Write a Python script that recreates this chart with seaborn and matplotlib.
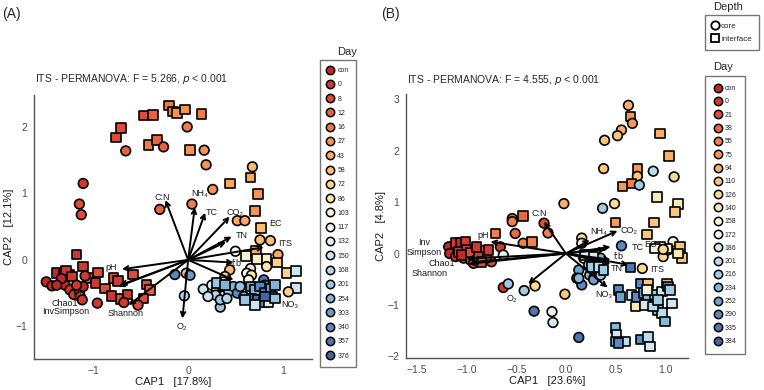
import pandas as pd
import seaborn as sns
import matplotlib.pyplot as plt
from matplotlib.lines import Line2D

# --- Panel A data (ITS, first experiment) ---
days_a = ["con", "0", "8", "12", "16", "27", "43", "58", "72", "86", "103", "117",
          "132", "150", "168", "201", "254", "303", "340", "357", "376"]

a_x = [-0.76, -0.71, -0.66, -0.47, -0.37, -0.42, -0.33, -0.26, -0.20, -0.16, -0.12, -0.03,
       -0.01, 0.14, 0.02, 0.17, 0.19, 0.26, 0.44, 0.68, 0.66, 0.74, -1.11, -1.15, -1.13,
       -0.30, 0.04, 0.71, 0.52, 0.60, 0.77, 0.76, 0.87, 0.50, 0.61, 0.72, 0.73, 0.83, 0.95,
       0.94, 0.83, 1.04, 1.14, 1.14, 1.06, 0.44, -0.02, -0.14, 0.02, -0.04, 0.16, 0.34,
       0.39, 0.37, 0.66, 0.62, 0.67, 0.64,
       0.25, 0.30, 0.36, 0.43, 0.48, 0.52, 0.55, 0.29, 0.21, 0.34, 0.41, 0.59, 0.71, 0.80,
       0.81, 0.76,
       0.30, 0.39, 0.66, 0.71, 0.76, 0.81, 0.87, 0.92, 0.89, 0.67, 0.74, 0.80, 0.85, 0.92,
       0.71, 0.60, 0.81,
       -1.18, -1.11, -1.04, -0.95, -0.98, -0.88, -0.79, -0.74, -0.58, -0.81, -0.71, -0.64,
       -0.44, -0.40, -0.47, -1.39, -1.32, -1.26, -1.29, -1.23, -1.33,
       -1.09, -0.68, -0.53, -0.96, -1.50, -1.44, -1.30, -1.25, -1.21, -1.15, -1.14, -1.11,
       -1.12, -1.18, -1.34, -1.39]
a_y = [1.84, 1.98, 1.64, 2.17, 2.18, 1.73, 1.80, 1.70, 2.32, 2.23, 2.21, 2.26,
       2.00, 2.19, 1.65, 1.65, 1.43, 1.06, 1.15, 1.40, 1.24, 0.99, 1.15, 0.84, 0.68,
       0.76, 0.84, 0.74, 0.59, 0.59, 0.48, 0.30, 0.29, 0.13, 0.06, 0.13, 0.01, 0.01, 0.08,
       -0.04, -0.10, -0.20, -0.17, -0.42, -0.48, -0.15, -0.20, -0.22, -0.23, -0.54, -0.44, -0.71,
       -0.25, -0.33, -0.13, -0.20, -0.23, -0.30,
       -0.38, -0.45, -0.40, -0.48, -0.40, -0.50, -0.40, -0.53, -0.55, -0.60, -0.58, -0.55, -0.58,
       -0.30, -0.38, -0.45,
       -0.35, -0.38, -0.40, -0.45, -0.40, -0.50, -0.43, -0.38, -0.55, -0.58, -0.60, -0.63, -0.64,
       -0.58, -0.68, -0.60, -0.55,
       0.08, -0.10, -0.27, -0.19, -0.35, -0.43, -0.27, -0.32, -0.22, -0.54, -0.59, -0.52,
       -0.37, -0.45, -0.58, -0.20, -0.22, -0.23, -0.17, -0.25, -0.30,
       -0.24, -0.64, -0.68, -0.65, -0.33, -0.39, -0.38, -0.45, -0.52, -0.48, -0.55, -0.40,
       -0.60, -0.38, -0.28, -0.38]
# c = core (circle), i = interface (square)
a_depth = list("iiciiiiciiiiciicccicii" + "cccccicciccciiiiciciiicccccccc" + "c" * 6
               + "c" * 16 + "i" * 17 + "i" * 21 + "c" * 16)
a_day = ["8", "8", "12", "8", "12", "16", "12", "12", "16", "16", "27", "27",
         "16", "16", "27", "27", "27", "27", "43", "58", "43", "27", "0", "8", "8",
         "12", "16", "27", "43", "43", "58", "58", "58", "117", "103", "43", "103", "103", "43",
         "72", "86", "72", "150", "150", "72", "58", "58", "340", "303", "168", "150", "201",
         "72", "86", "103", "117", "86", "117",
         "132", "168", "303", "201", "254", "340", "201", "168", "150", "201", "168", "254", "376",
         "357", "303", "254",
         "201", "254", "303", "254", "340", "357", "303", "254", "168", "376", "357", "340", "132",
         "201", "150", "201", "376",
         "0", "0", "8", "8", "0", "8", "8", "0", "8", "0", "8", "0",
         "8", "12", "8", "con", "0", "con", "0", "0", "con",
         "0", "0", "8", "0", "con", "con", "con", "0", "0", "con", "0", "con",
         "0", "0", "con", "con"]

# arrows (end point) and their labels for panel A
a_vec = ["C:N", "NH₄", "TC", "CO₂", "TN", "EC", "ITS", "f:b", "NO₃", "O₂", "Shannon",
         "Chao1", "InvSimpson", "pH"]
a_vx = [-0.24, 0.07, 0.18, 0.44, 0.46, 0.40, 0.80, 0.48, 0.48, -0.06, -0.63, -0.74, -0.72, -0.70]
a_vy = [0.90, 0.79, 0.71, 0.65, 0.35, 0.27, 0.19, -0.04, -0.30, -0.88, -0.68, -0.40, -0.38, -0.14]
a_lx = [-0.27, 0.12, 0.25, 0.50, 0.57, 0.92, 1.03, 0.52, 1.08, -0.07, -0.66, -1.30, -1.29, -0.81]
a_ly = [0.94, 1.00, 0.71, 0.72, 0.37, 0.55, 0.24, -0.05, -0.67, -1.00, -0.81, -0.65, -0.77, -0.12]

# --- Panel B data (ITS, second experiment) ---
days_b = ["con", "0", "21", "38", "55", "75", "94", "110", "126", "140", "158", "172",
          "186", "201", "216", "234", "252", "290", "335", "384"]

b_x = [0.63, 0.65, 0.67, 0.56, 0.52, 0.39, 0.95, 1.04, 0.38, 0.72, 0.72, 0.66, 0.57, 0.74,
       0.88, 1.09, 0.92, 1.13, 1.10, -0.02, 0.49, 0.37, 0.50, 0.89, 0.82,
       -0.54, -0.43, -0.54, -0.51, -0.71, -0.43, -0.34, -0.22, -0.18, 0.56, 0.16, 0.16,
       1.08, 0.98, 1.03, 1.02, 1.15, 1.17, 1.13, 0.95, 0.90, 0.98,
       -1.18, -1.17, -1.11, -1.06, -1.03, -0.96, -0.90, -0.86, -0.75, -0.66, -0.80, -0.93, -0.63,
       -1.11, -1.06, -1.01, -1.08, -1.00, -0.96, -0.90, -0.78, -0.88, -1.05, -0.85,
       -0.63, -0.58, -0.42, -0.31, -0.32, -0.14, -0.13, -0.01, 0.13,
       0.18, 0.13, 0.11, 0.16, 0.24, 0.28, 0.23, 0.29, 0.35, 0.26, 0.13, 0.28, 0.35,
       0.26, 0.33, 0.38, 0.19, 0.28, 0.65, 0.77,
       0.53, 0.55, 0.66, 0.71, 0.75, 0.83, 0.78, 0.83, 0.90, 0.97, 1.02, 1.03, 1.05, 1.07,
       0.92, 0.93, 0.97, 1.00, 0.70, 0.80, 0.88, 0.93, 0.82,
       0.50, 0.51, 0.50, 0.60, 0.75, 0.83, 0.85, 0.53]
b_y = [2.88, 2.66, 2.53, 2.40, 2.29, 2.20, 2.33, 1.89, 1.65, 1.64, 1.50, 1.36, 1.30, 1.33,
       1.60, 1.49, 1.10, 0.96, 0.81, 0.97, 0.97, 0.88, 0.60, 0.60, 0.37,
       0.68, 0.73, 0.62, 0.39, 0.39, 0.20, 0.23, 0.59, 0.40, 0.15, 0.30, 0.20,
       0.23, -0.06, 0.07, 0.10, 0.13, -0.09, 0.00, 0.13, 0.10, 0.08,
       0.13, 0.00, -0.06, 0.10, -0.09, -0.13, 0.00, 0.07, -0.16, 0.13, -0.09, -0.19, -0.03,
       0.20, 0.20, 0.23, 0.03, 0.07, 0.02, 0.13, 0.07, -0.06, -0.03, -0.16,
       -0.66, -0.59, -0.72, -0.63, -1.12, -1.13, -1.34, -0.79, -1.63,
       -0.09, -0.32, -0.48, -0.61, -0.42, -0.48, -0.22, -0.29, -0.09, -0.03, -0.48, -0.51, -0.42,
       -0.26, -0.26, -0.32, -0.03, -0.06, -0.27, -0.29,
       -0.71, -0.84, -0.81, -0.84, -0.58, -0.58, -0.77, -0.81, -0.81, -0.74, -0.58, -0.64, -0.71,
       -0.97, -0.97, -1.10, -1.16, -1.32, -1.03, -1.00, -1.03, -0.90, -0.71,
       -1.45, -1.58, -1.71, -1.71, -1.67, -1.62, -1.81, -1.74]
b_depth = list("ciccccii" + "ciciiccc" + "iiiccciii" + "cicciciccccc" + "ccciiiiiic"
               + "c" * 13 + "i" * 11 + "c" * 9 + "c" * 13 + "iiiiiic" + "i" * 23 + "i" * 8)
b_day = ["94", "75", "75", "94", "110", "110", "94", "94", "110", "75", "110", "55", "75", "216",
         "201", "126", "140", "140", "110", "94", "126", "216", "75", "110", "110",
         "38", "38", "55", "38", "55", "55", "55", "21", "55", "290", "126", "158",
         "158", "126", "172", "158", "110", "110", "140", "158", "158", "126",
         "con", "con", "0", "con", "0", "0", "0", "21", "21", "0", "0", "21", "172",
         "0", "con", "0", "0", "0", "21", "0", "0", "0", "con", "21",
         "0", "216", "216", "126", "335", "172", "186", "110", "335",
         "158", "252", "290", "290", "234", "290", "216", "201", "234", "216", "234", "252", "216",
         "216", "201", "216", "172", "186", "335", "126",
         "290", "252", "186", "290", "290", "110", "252", "234", "216", "186", "94", "290", "216",
         "186", "201", "234", "201", "234", "140", "186", "201", "216", "158",
         "234", "186", "252", "201", "290", "201", "186", "290"]

b_vec = ["C:N", "NH₄", "CO₂", "TC", "EC", "f:b", "TN", "ITS", "NO₃", "O₂", "pH",
         "Inv\nSimpson", "Chao1", "Shannon"]
b_vx = [-0.22, 0.24, 0.52, 0.45, 0.40, 0.45, 0.45, 0.63, 0.42, -0.38, -0.76, -1.00, -0.98, -0.95]
b_vy = [0.62, 0.26, 0.44, 0.13, 0.08, -0.12, -0.20, -0.22, -0.66, -0.59, 0.23, -0.10, -0.20, -0.17]
b_lx = [-0.27, 0.33, 0.64, 0.72, 0.85, 0.53, 0.51, 0.92, 0.38, -0.54, -0.83, -1.43, -1.25, -1.37]
b_ly = [0.78, 0.42, 0.45, 0.12, 0.17, -0.05, -0.29, -0.32, -0.79, -0.87, 0.36, 0.12, -0.19, -0.38]

anchors = ["#c0282c", "#e0513a", "#f2874f", "#fcb768", "#fde4a0", "#f5f7ef",
           "#c4e2ef", "#8bbedc", "#5a8cc2", "#3f66a8"]


def make_palette(levels):
    cols = sns.blend_palette(anchors, n_colors=len(levels))
    return dict(zip(levels, cols))


def draw_panel(ax, df, pal, vec, vx, vy, lx, ly):
    sns.scatterplot(data=df, x="x", y="y", hue="Day", style="Depth", palette=pal,
                    markers={"core": "o", "interface": "s"}, s=48, edgecolor="black",
                    linewidth=1.2, legend=False, ax=ax, zorder=2)
    for name, ex, ey, tx, ty in zip(vec, vx, vy, lx, ly):
        ax.annotate("", xy=(ex, ey), xytext=(0, 0),
                    arrowprops=dict(arrowstyle="->", lw=1.4, color="black",
                                    mutation_scale=8, shrinkA=0, shrinkB=0), zorder=3)
        ax.text(tx, ty, name, fontsize=6.5, ha="center", va="center", color="#1a1a1a",
                zorder=4, linespacing=1.1)
    sns.despine(ax=ax)
    for sp in ["left", "bottom"]:
        ax.spines[sp].set_color("#555555")
        ax.spines[sp].set_linewidth(1.0)
    ax.tick_params(colors="#333333", labelcolor="#4d4d4d", labelsize=7.5, length=3, width=0.8,
                   pad=2)


def day_legend(fig, pal, x, y, labelspacing, borderpad):
    handles = [Line2D([], [], marker="o", ls="", markerfacecolor=c, markeredgecolor="black",
                      markeredgewidth=1.1, markersize=6) for c in pal.values()]
    leg = fig.legend(handles, list(pal.keys()), loc="upper left", bbox_to_anchor=(x, y),
                     fontsize=5, frameon=True, fancybox=False, labelspacing=labelspacing,
                     handletextpad=0.5, handlelength=1.0, borderpad=borderpad, borderaxespad=0)
    leg.get_frame().set_edgecolor("#555555")
    leg.get_frame().set_linewidth(1.0)
    return leg


df_a = pd.DataFrame({"x": a_x, "y": a_y,
                     "Depth": ["core" if d == "c" else "interface" for d in a_depth],
                     "Day": a_day})
df_b = pd.DataFrame({"x": b_x, "y": b_y,
                     "Depth": ["core" if d == "c" else "interface" for d in b_depth],
                     "Day": b_day})

sns.set_style("white")
plt.rcParams["font.family"] = ["Liberation Sans", "DejaVu Sans"]

W, H = 764, 390
fig = plt.figure(figsize=(W / 100, H / 100), dpi=100)
ax_a = fig.add_axes([34 / W, 1 - 359 / H, 278 / W, 264 / H])
ax_b = fig.add_axes([406 / W, 1 - 358 / H, 282 / W, 264 / H])

pal_a = make_palette(days_a)
pal_b = make_palette(days_b)

draw_panel(ax_a, df_a, pal_a, a_vec, a_vx, a_vy, a_lx, a_ly)
ax_a.set_xlim(-1.63, 1.31)
ax_a.set_ylim(-1.49, 2.48)
ax_a.set_xticks([-1, 0, 1])
ax_a.set_yticks([-1, 0, 1, 2])
ax_a.set_xlabel("CAP1   [17.8%]", fontsize=8, color="#1a1a1a", labelpad=1)
ax_a.set_ylabel("CAP2   [12.1%]", fontsize=8, color="#1a1a1a", labelpad=1)
ax_a.text(0.005, 1 + 16 / 264, r"ITS - PERMANOVA: F = 5.266, $\it{p}$ < 0.001",
          transform=ax_a.transAxes, fontsize=7.5, va="center", ha="left")

draw_panel(ax_b, df_b, pal_b, b_vec, b_vx, b_vy, b_lx, b_ly)
ax_b.set_xlim(-1.61, 1.23)
ax_b.set_ylim(-2.03, 3.10)
ax_b.set_xticks([-1.5, -1.0, -0.5, 0.0, 0.5, 1.0])
ax_b.set_xticklabels(["−1.5", "−1.0", "−0.5", "0.0", "0.5", "1.0"])
ax_b.set_yticks([-2, -1, 0, 1, 2, 3])
ax_b.set_xlabel("CAP1   [23.6%]", fontsize=8, color="#1a1a1a", labelpad=1)
ax_b.set_ylabel("CAP2   [4.8%]", fontsize=8, color="#1a1a1a", labelpad=1)
ax_b.text(0.005, 1 + 14 / 264, r"ITS - PERMANOVA: F = 4.555, $\it{p}$ < 0.001",
          transform=ax_b.transAxes, fontsize=7.5, va="center", ha="left")

fig.text(2 / W, 1 - 14 / H, "(A)", fontsize=10, va="center", ha="left")
fig.text(381 / W, 1 - 14 / H, "(B)", fontsize=10, va="center", ha="left")

# legends
day_legend(fig, pal_a, 320 / W, 1 - 60 / H, 1.05, 1.0)
fig.text(337 / W, 1 - 52 / H, "Day", fontsize=8, va="center", ha="left")

depth_handles = [Line2D([], [], marker=m, ls="", markerfacecolor="white", markeredgecolor="black",
                        markeredgewidth=1.3, markersize=6) for m in ["o", "s"]]
leg_d = fig.legend(depth_handles, ["core", "interface"], loc="upper left",
                   bbox_to_anchor=(705 / W, 1 - 15 / H), fontsize=5.8, frameon=True,
                   fancybox=False, handletextpad=0.3, handlelength=0.8, borderpad=0.9,
                   labelspacing=0.7, borderaxespad=0)
leg_d.get_frame().set_edgecolor("#555555")
fig.text(713 / W, 1 - 7 / H, "Depth", fontsize=8, va="center", ha="left")

day_legend(fig, pal_b, 705 / W, 1 - 76 / H, 0.91, 1.3)
fig.text(713 / W, 1 - 67 / H, "Day", fontsize=8, va="center", ha="left")

fig.savefig("out.png", dpi=100)
